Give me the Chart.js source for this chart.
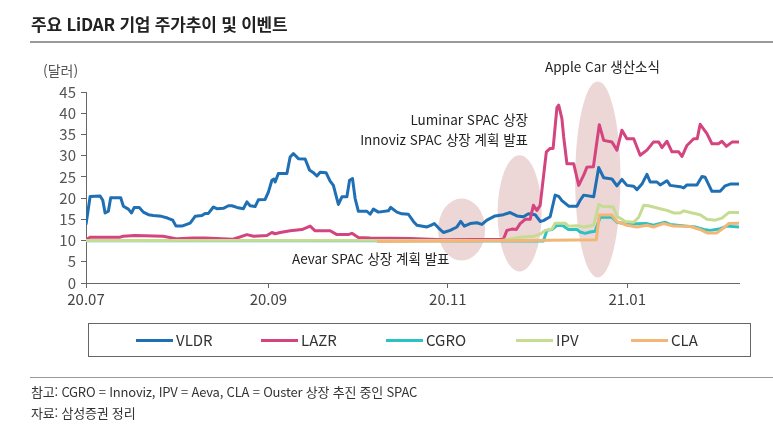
<!DOCTYPE html>
<html lang="ko">
<head>
<meta charset="utf-8">
<title>주요 LiDAR 기업 주가추이 및 이벤트</title>
<script src="https://cdn.jsdelivr.net/npm/chart.js@4.4.1/dist/chart.umd.min.js"></script>
<style>
  html, body { margin: 0; padding: 0; background: #fff; }
  body {
    width: 773px; height: 434px; position: relative; overflow: hidden;
    font-family: 'Noto Sans CJK KR', 'Noto Sans', sans-serif; color: #222;
  }
  canvas { position: absolute; left: 0; top: 0; }
  .abs { position: absolute; white-space: nowrap; line-height: 18px; }
  #title { left: 31px; top: 13px; font-size: 17px; font-weight: bold; letter-spacing: -0.2px; line-height: 22px; }
  #titleRule { left: 30px; top: 41px; width: 743px; height: 2px; background: #9a9a9a; }
  #unit { left: 43px; top: 61px; font-size: 14px; color: #555; }
  .note { font-size: 13.5px; color: #222; }
  #legend { left: 88px; top: 323px; width: 663px; height: 34px; border: 1px solid #666; box-sizing: border-box; }
  .lg { position: absolute; top: 7px; font-size: 15px; color: #333; display: flex; align-items: center; line-height: 18px; }
  .lg i { display: inline-block; width: 37px; height: 3px; margin-right: 3px; }
  #footRule { left: 30px; top: 377px; width: 743px; height: 1px; background: #999; }
  .foot { left: 31px; font-size: 13px; color: #333; letter-spacing: -0.2px; }
</style>
</head>
<body>
<canvas id="chart" width="773" height="434"></canvas>

<div class="abs" id="title">주요 LiDAR 기업 주가추이 및 이벤트</div>
<div class="abs" id="titleRule"></div>
<div class="abs" id="unit">(달러)</div>

<div class="abs note" style="left:545px; top:57px;">Apple Car 생산소식</div>
<div class="abs note" style="right:245px; top:110px;">Luminar SPAC 상장</div>
<div class="abs note" style="right:245px; top:130px;">Innoviz SPAC 상장 계획 발표</div>
<div class="abs note" style="left:292px; top:249px;">Aevar SPAC 상장 계획 발표</div>

<div class="abs" id="legend"></div>

<div class="abs" id="footRule"></div>
<div class="abs foot" style="top:383px;">참고: CGRO = Innoviz, IPV = Aeva, CLA = Ouster 상장 추진 중인 SPAC</div>
<div class="abs foot" style="top:404px;">자료: 삼성증권 정리</div>

<script>
// Data (x = days since 2020-07-01, y = price in USD)

const monthDays   = [0, 62, 123, 184];
const monthLabels = ['20.07', '20.09', '20.11', '21.01'];

const vldrDays = [0, 1.4, 4.8, 5.7, 6.5, 7.6, 8.4, 11.8, 12.7, 14.4, 15.5, 16.4, 18.1, 19.5, 21.2, 22.9,
  25.7, 27.7, 29.5, 30.6, 32.6, 35.4, 37.1, 39.4, 40.5, 41.6, 43.3, 44.5, 46.7, 48.4, 49.6, 51.3,
  53.5, 54.7, 55.8, 57.5, 58.6, 60.9, 62, 63.2, 63.9, 64.3, 65.4, 68.3, 69.4, 70.5, 72.2, 74.5,
  76, 77.3, 78.5, 79.6, 81.6, 83, 84.1, 85.8, 87, 88.7, 89.6, 90.6, 91.5, 92.6, 95.5, 96.6,
  97.7, 99.4, 102.8, 103.6, 105.7, 107.4, 109.6, 111.3, 112.5, 115.9, 117.2, 118.4, 119.8, 121.5,
  123.8, 126.1, 127.4, 128.6, 130.6, 132.9, 134.6, 136.3, 139.1, 141.9, 144.2, 146.5, 148.7, 150.4,
  152.7, 154.4, 155.5, 157.8, 159.5, 160.7, 161.8, 164.1, 166.9, 168, 169.2, 172.6, 174.3, 176,
  178.8, 180.5, 182.2, 183.9, 186.2, 187.3, 189, 190.7, 191.8, 194.1, 195.2, 197.5, 198.6, 202,
  203.2, 204.3, 207.7, 209.4, 210.5, 212.8, 215.6, 217.3, 219, 222];
const vldrPrices = [13.8, 20.4, 20.5, 19.5, 16.5, 16.9, 20.1, 20.1, 18.1, 17.4, 16.5, 17.8, 17.8, 16.7, 16.1, 15.9,
  15.7, 15.3, 14.8, 13.4, 13.4, 14.1, 15.7, 15.9, 16.4, 16.4, 17.9, 17.5, 17.6, 18.2, 18.2, 17.8,
  17.5, 19.1, 18.2, 18.0, 19.6, 19.7, 21.4, 24.2, 24.5, 23.8, 25.8, 25.8, 29.7, 30.5, 29.3, 29.2,
  26.6, 26.0, 25.2, 26.1, 26.0, 24.0, 23.0, 18.5, 20.3, 20.3, 24.2, 24.6, 19.9, 16.9, 16.9, 16.2,
  17.4, 16.7, 17.0, 17.8, 16.7, 16.3, 16.2, 14.5, 13.6, 13.2, 13.6, 14.0, 13.0, 11.9,
  12.4, 13.2, 14.5, 13.4, 14.0, 14.2, 13.8, 14.8, 15.8, 16.1, 16.6, 15.8, 15.6, 16.3,
  16.1, 14.5, 14.7, 15.6, 20.7, 20.4, 19.4, 18.1, 18.1, 19.5, 20.7, 20.3, 27.2, 24.8,
  24.5, 22.9, 24.4, 23.0, 22.8, 22.0, 23.3, 25.6, 23.8, 23.8, 23.1, 24.1, 23.0, 22.7,
  22.4, 23.1, 23.1, 25.1, 24.9, 21.6, 21.6, 22.9, 23.3, 23.3];

const lazrDays = [0, 1.4, 11.6, 12.6, 16.7, 26.2, 31, 36.4, 40.5, 50, 54.7, 57, 61.5, 63.2, 64.3, 66,
  69.4, 73.4, 76.2, 77.9, 83, 85.3, 89.1, 90.4, 92.6, 96.6, 110.2, 121.4, 141.9, 143.1, 144.8, 146.3,
  147.6, 149.3, 151, 152.1, 153.3, 154.4, 156.5, 157.8, 158.8, 160.1, 160.7, 161.8, 162.4, 163.5,
  165.8, 167.5, 169.2, 170.3, 172.5, 174.5, 176, 178.8, 180.5, 182.2, 183.9, 186.2, 188.4, 190.7,
  192.9, 194.7, 195.8, 197.5, 199.2, 201.5, 202.6, 204.3, 206.6, 207.8, 208.8, 211.1, 212.8, 215,
  216.2, 217.7, 219.6, 222];
const lazrPrices = [10.2, 10.8, 10.8, 11.0, 11.2, 11.0, 10.4, 10.6, 10.6, 10.3, 11.4, 11.0, 11.2, 11.9, 11.6, 11.9,
  12.3, 12.6, 13.4, 12.3, 12.3, 11.4, 11.4, 11.7, 10.7, 10.6, 10.5, 10.2, 10.3, 12.4, 12.7, 12.6,
  14.0, 15.0, 15.0, 18.3, 17.1, 18.3, 30.9, 31.7, 31.7, 41.3, 41.9, 38.7, 34.4, 28.1,
  28.1, 23.0, 25.4, 27.3, 27.4, 37.3, 33.6, 33.2, 31.3, 36.0, 34.0, 34.0, 30.1, 31.3,
  33.2, 33.2, 31.9, 33.4, 30.9, 30.9, 29.8, 32.4, 34.0, 34.0, 37.4, 35.2, 32.8, 32.8,
  33.4, 32.2, 33.2, 33.2];

const cgroDays = [0, 60, 100, 155.5, 156.7, 158.4, 160.1, 162.2, 164, 166.9, 168, 169.7, 171.4, 173.1,
  174.8, 178.8, 180.5, 183.9, 190.7, 192.9, 196.9, 198.6, 204.3, 207.1, 210, 212.2, 215.6, 217.9, 222];
const cgroPrices = [9.95, 9.95, 9.95, 9.9, 12.4, 12.6, 13.6, 13.5, 12.6, 12.6, 12.0, 11.7, 12.0, 12.2,
  15.5, 15.5, 14.3, 13.9, 14.0, 13.6, 14.3, 13.8, 13.4, 13.2, 12.6, 12.4, 12.8, 13.4, 13.2];

const ipvDays = [0, 141.9, 147.6, 152.1, 154.4, 156.1, 158.4, 159.5, 162.9, 164, 166.9, 169.2, 172.6,
  174.3, 175.4, 179.3, 180.5, 182.2, 183.3, 186.2, 187.9, 189.6, 191.2, 192.9, 195.2, 197.5, 199.8,
  202, 203.2, 205.4, 208.8, 211.1, 213.9, 216.2, 218.5, 222];
const ipvPrices = [10.0, 10.1, 10.8, 11.0, 11.5, 12.4, 12.7, 14.1, 14.1, 13.4, 13.5, 13.2, 13.6,
  18.5, 18.1, 17.9, 15.7, 15.0, 14.5, 14.3, 15.5, 18.3, 18.2, 17.9, 17.5, 17.1, 16.5,
  16.5, 17.0, 16.6, 16.1, 15.0, 14.8, 15.3, 16.6, 16.6];

const claDays = [99, 150, 173.5, 174.5, 178.8, 180.5, 181.6, 183.9, 187.3, 190.7, 192.9, 196.3, 199.8,
  205.4, 208.8, 211.1, 214.5, 216.8, 218.5, 222];
const claPrices = [9.8, 10.0, 10.2, 16.0, 16.0, 14.4, 14.2, 13.6, 13.2, 13.6, 13.2, 14.0, 13.4,
  13.3, 12.6, 11.8, 11.8, 13.0, 14.0, 14.1];

// Event highlight ellipses: centre (day, price) and half extents (days, price)
const eventDays       = [127.7, 147.4, 174];
const eventPrices     = [12.6, 16.4, 24.4];
const eventHalfDays   = [8, 7.5, 7.7];
const eventHalfPrices = [7.3, 13.7, 23.1];

// Series (order: higher is drawn first, so CLA sits on top like the original)

const series = [
  { label: 'VLDR', days: vldrDays, prices: vldrPrices, color: '#1f6fb4', order: 5 },
  { label: 'LAZR', days: lazrDays, prices: lazrPrices, color: '#d4447f', order: 4 },
  { label: 'CGRO', days: cgroDays, prices: cgroPrices, color: '#2cc2c2', order: 3 },
  { label: 'IPV',  days: ipvDays,  prices: ipvPrices,  color: '#c6dc92', order: 2 },
  { label: 'CLA',  days: claDays,  prices: claPrices,  color: '#f2b676', order: 1 }
];

// Legend (HTML, boxed like the original)

const legendBox = document.getElementById('legend');
const legendLeft = [47, 172, 297, 427, 542];
series.forEach((s, i) => {
  legendBox.innerHTML +=
    `<div class="lg" style="left:${legendLeft[i]}px"><i style="background:${s.color}"></i>${s.label}</div>`;
});

// Plugin: pink ellipses behind the lines

const eventEllipses = {
  id: 'eventEllipses',
  beforeDatasetsDraw(chart) {
    const { ctx, scales: { x, y } } = chart;
    ctx.save();
    ctx.fillStyle = '#ecd6d6';
    eventDays.forEach((d, i) => {
      const cx = x.getPixelForValue(d);
      const cy = y.getPixelForValue(eventPrices[i]);
      const rx = x.getPixelForValue(d + eventHalfDays[i]) - cx;
      const ry = cy - y.getPixelForValue(eventPrices[i] + eventHalfPrices[i]);
      ctx.beginPath();
      ctx.ellipse(cx, cy, rx, ry, 0, 0, Math.PI * 2);
      ctx.fill();
    });
    ctx.restore();
  }
};

const tickFont = { family: "'Noto Sans CJK KR', 'Noto Sans', sans-serif", size: 15 };

new Chart(document.getElementById('chart'), {
  type: 'line',
  data: {
    datasets: series.map(s => ({
      label: s.label,
      data: s.days.map((d, i) => ({ x: d, y: s.prices[i] })),
      borderColor: s.color,
      backgroundColor: s.color,
      borderWidth: 3,
      borderJoinStyle: 'round',
      pointRadius: 0,
      tension: 0,
      order: s.order
    }))
  },
  options: {
    responsive: false,
    animation: false,
    layout: { padding: { left: 0, top: 92, right: 34, bottom: 121 } },
    plugins: { legend: { display: false }, tooltip: { enabled: false } },
    scales: {
      x: {
        type: 'linear',
        min: 0,
        max: 222,
        afterBuildTicks: scale => { scale.ticks = monthDays.map(v => ({ value: v })); },
        afterFit: scale => { scale.height = 30; },
        ticks: {
          callback: (v, i) => monthLabels[i],
          color: '#444', font: tickFont, padding: 2, maxRotation: 0, autoSkip: false
        },
        grid: { drawOnChartArea: false, drawTicks: true, tickLength: 5, color: '#666' },
        border: { color: '#666', width: 1 }
      },
      y: {
        min: 0,
        max: 45,
        afterFit: scale => { scale.width = 86; },
        ticks: { stepSize: 5, color: '#555', font: tickFont, padding: 5 },
        grid: { drawOnChartArea: false, drawTicks: true, tickLength: 5, color: '#666' },
        border: { color: '#666', width: 1 }
      }
    }
  },
  plugins: [eventEllipses]
});
</script>
</body>
</html>
